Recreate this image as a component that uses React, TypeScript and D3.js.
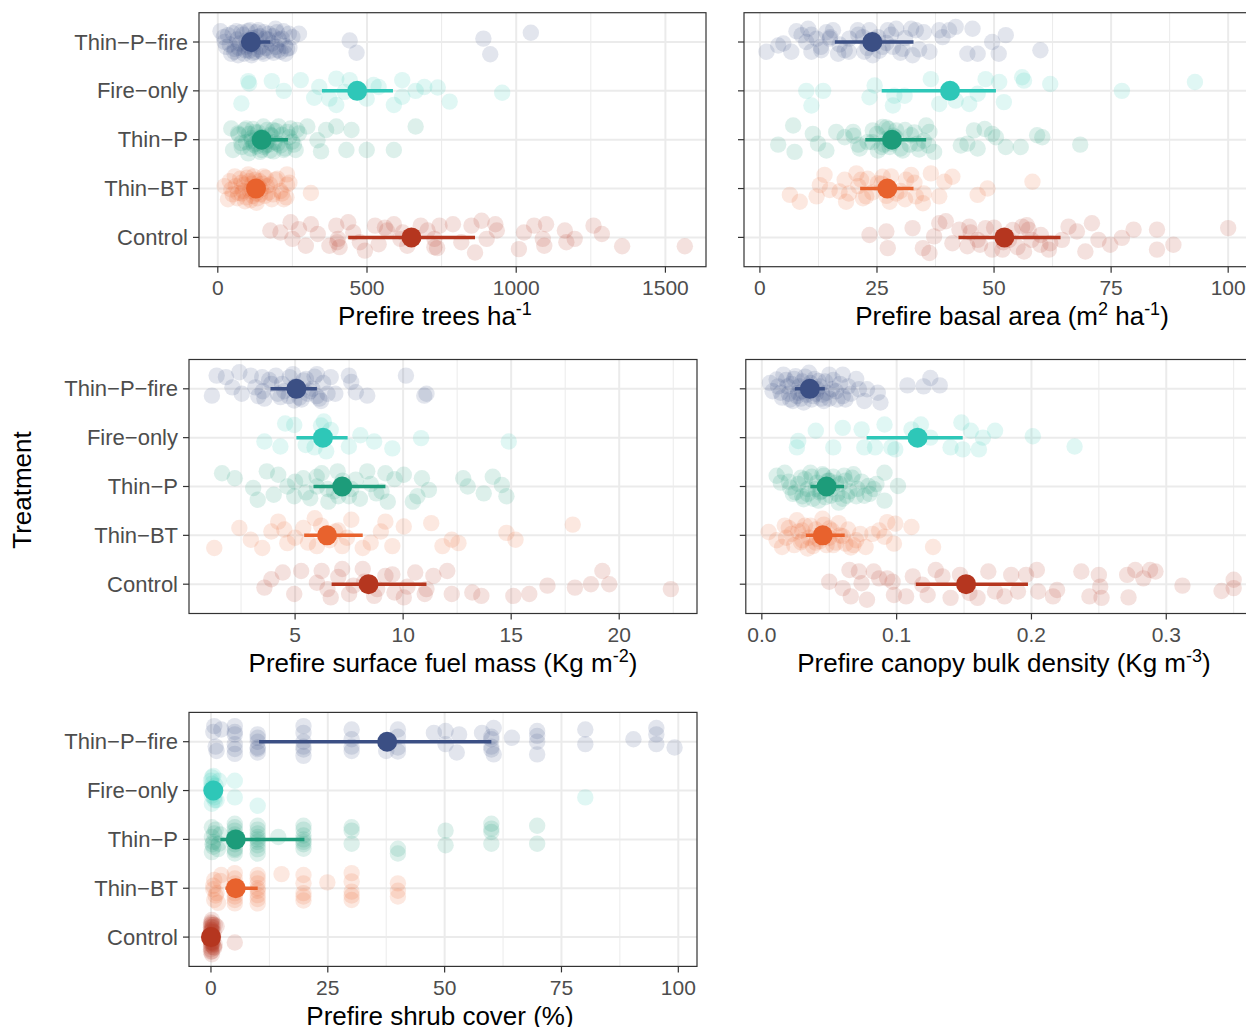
import React from "react";
import * as d3 from "d3";

// [value, vertical jitter in category steps]
type Pt = [number, number];

const treatments = ["Thin−P−fire", "Fire−only", "Thin−P", "Thin−BT", "Control"];
const palette = ["#3B4F84", "#2EC7B8", "#1D9C7A", "#E8622D", "#B5361F"];

// ---- Prefire trees ha-1
const treesThinPFire: Pt[] = [
  [9, -0.22], [34, -0.14], [28, 0.1], [45, 0.24], [62, -0.22], [74, 0.03], [91, 0.17], [108, -0.24],
  [113, 0.27], [130, -0.1], [142, 0.1], [153, 0.24], [170, -0.17], [181, 0.03], [193, -0.27], [202, 0.17],
  [215, -0.07], [227, 0.24], [238, -0.17], [272, -0.17], [23, 0], [57, 0.14], [79, -0.2], [96, -0.03],
  [102, 0.07], [125, 0.2], [159, -0.07], [187, 0.22], [198, -0.2], [232, 0.14], [68, 0.27], [136, -0.24],
  [20, -0.1], [40, 0.05], [50, -0.18], [55, 0.2], [65, -0.05], [70, 0.12], [85, -0.15], [88, 0.24],
  [95, 0.1], [100, -0.22], [105, 0.18], [115, -0.08], [118, 0.22], [120, 0.05], [128, -0.2], [135, 0.15],
  [140, -0.12], [148, 0.2], [155, -0.2], [162, 0.12], [168, -0.05], [175, 0.18], [185, -0.12], [195, 0.1],
  [205, -0.05], [210, 0.2], [220, -0.22], [225, 0.08], [240, 0.12], [250, -0.1],
  [442, -0.03], [465, 0.22], [890, -0.07], [913, 0.25], [1049, -0.19],
];
const treesFireOnly: Pt[] = [
  [102, -0.2], [79, 0.26], [181, -0.2], [221, 0], [278, -0.22], [323, 0.14], [340, -0.08], [374, 0.16],
  [397, -0.25], [397, 0.29], [425, 0.02], [442, -0.22], [499, 0.16], [522, -0.12], [539, -0.08], [590, 0.29],
  [618, 0.12], [618, -0.22], [663, 0], [692, -0.08], [737, -0.07], [777, 0.22], [953, 0.04], [105, -0.15],
];
const treesThinP: Pt[] = [
  [45, -0.23], [51, 0.21], [68, -0.13], [79, 0.07], [96, -0.23], [102, 0.28], [113, -0.03], [125, -0.16],
  [130, 0.14], [147, 0.21], [153, -0.27], [164, 0.04], [176, -0.1], [187, 0.24], [204, -0.27], [221, 0.21],
  [232, -0.16], [244, -0.23], [249, 0.04], [261, 0.21], [272, -0.13], [300, -0.27], [334, 0.01], [346, 0.24],
  [363, -0.2], [397, -0.27], [431, 0.21], [448, -0.2], [499, 0.21], [590, 0.21], [663, -0.27],
  [120, 0.1], [140, -0.05], [160, 0.12], [185, -0.2], [200, 0.08],
  [70, -0.1], [80, 0.15], [90, -0.2], [95, 0.05], [105, -0.12], [110, 0.18], [115, 0.02], [118, -0.22],
  [128, 0.08], [135, -0.15], [142, 0.25], [150, -0.05], [155, 0.15], [165, -0.2], [170, 0.1], [175, 0.22],
  [180, -0.08], [190, 0.05], [195, -0.18], [210, 0.12], [215, -0.1], [225, 0.18], [240, -0.05], [255, 0.1],
  [265, -0.2],
];
const treesThinBT: Pt[] = [
  [23, -0.05], [34, 0.22], [57, -0.25], [68, 0.09], [79, -0.12], [91, 0.26], [102, -0.29], [113, 0.02],
  [125, -0.18], [130, 0.29], [142, 0.12], [153, -0.25], [164, -0.05], [181, 0.22], [193, -0.18], [210, 0.05],
  [221, 0.22], [232, -0.29], [232, -0.08], [312, 0.09], [45, 0.02], [136, -0.05], [85, 0.05], [118, 0.15],
  [150, -0.1], [170, 0.08], [105, -0.15],
  [40, -0.15], [50, 0.12], [60, -0.05], [65, 0.2], [75, -0.2], [80, 0.1], [88, -0.08], [95, 0.18],
  [98, -0.22], [108, 0.05], [110, 0.24], [115, -0.1], [120, -0.25], [128, 0.1], [133, 0.2], [140, -0.15],
  [145, 0.02], [158, 0.15], [160, -0.22], [175, -0.08], [185, 0.12], [200, -0.2], [215, 0.1], [230, 0.18],
  [240, -0.12],
];
const treesControl: Pt[] = [
  [176, -0.14], [210, -0.1], [244, -0.31], [250, 0.03], [272, -0.17], [295, 0.17], [312, -0.27], [335, -0.07],
  [374, 0.17], [397, -0.24], [403, 0.03], [408, 0.2], [437, -0.31], [454, -0.1], [476, 0.1], [493, 0.27],
  [527, -0.24], [539, 0.14], [567, -0.14], [590, -0.27], [612, 0.03], [635, 0.17], [680, -0.24], [703, -0.14],
  [726, 0.2], [743, -0.24], [788, -0.27], [816, 0.1], [850, -0.24], [862, 0.31], [884, -0.34], [901, 0.03],
  [930, -0.27], [935, -0.14], [1009, 0.24], [1026, -0.1], [1060, -0.24], [1089, 0.03], [1100, -0.27],
  [1163, -0.14], [1196, 0.03], [1259, -0.24], [1287, -0.07], [1355, 0.18], [1565, 0.18], [1168, 0.1],
  [1094, 0.17], [726, 0.03], [400, 0.1], [560, -0.2], [735, 0.22], [620, -0.1],
];
const treesMean = [111, 467, 147, 128, 649];
const treesLo = [80, 349, 115, 105, 437];
const treesHi = [176, 587, 235, 150, 862];
const treesTicks = [0, 500, 1000, 1500];
const treesTickLabels = ["0", "500", "1000", "1500"];
const treesMinor = [250, 750, 1250];

// ---- Prefire basal area (m2 ha-1)
const basalThinPFire: Pt[] = [
  [1.4, 0.2], [3.9, 0.07], [5, 0.03], [6.7, 0.2], [7.8, -0.22], [8.9, -0.14], [9.9, 0], [10.3, -0.27],
  [11, 0.2], [12.1, -0.07], [13.1, 0.17], [14.2, -0.2], [14.9, -0.07], [15.6, -0.24], [16.7, 0.24],
  [18.1, 0.17], [19.1, -0.07], [20.9, -0.24], [22, -0.1], [22.3, 0.2], [23.4, -0.24], [24.1, 0.27],
  [25.2, -0.1], [26.2, 0.1], [27.3, -0.24], [28.4, 0.1], [29.1, -0.27], [30.5, 0.14], [32.3, -0.27],
  [32.6, 0.27], [33.3, -0.24], [36.2, 0.2], [38.3, -0.24], [39, -0.1], [40.4, -0.24], [41.8, -0.31],
  [44.3, 0.24], [45.4, -0.27], [46.5, 0.24], [49.6, 0], [51, 0.24], [52.5, -0.14], [59.9, 0.17],
  [11, -0.15], [13, 0.1], [15, -0.1], [17, 0.05], [19, 0.2], [21, -0.15], [23, 0.12], [24.5, -0.05],
  [25.5, 0.18], [27, 0.02], [28, -0.15], [30, 0.22], [31, -0.08], [34, 0.15], [35, -0.2],
];
const basalFireOnly: Pt[] = [
  [9.9, 0], [11, 0.3], [13.5, 0], [23.4, 0.13], [24.5, -0.11], [28.4, 0.3], [28.7, 0.1], [30.9, 0.1],
  [36.5, -0.24], [38.3, 0.27], [41.8, 0.2], [44.7, 0.27], [46.5, 0.06], [48.2, -0.24], [51.1, -0.18],
  [52.1, 0.23], [56, -0.28], [56.4, -0.21], [62, -0.14], [77.3, 0], [92.9, -0.18],
];
const basalThinP: Pt[] = [
  [3.9, 0.1], [7.1, -0.29], [7.4, 0.25], [11.3, -0.12], [12.4, 0.08], [14.2, 0.22], [16.3, -0.16],
  [18.1, -0.05], [19.9, -0.16], [21.3, 0.18], [23, 0.05], [24.1, -0.19], [25.2, 0.22], [26.2, -0.26],
  [27, -0.02], [27.7, 0.15], [29.1, -0.19], [30.5, 0.22], [32.3, -0.09], [33.7, 0.08], [35.5, -0.29],
  [36.2, -0.16], [37.2, 0.25], [42.9, 0.12], [44.3, 0.08], [45.7, -0.19], [46.5, 0.18], [48, -0.22],
  [49.6, -0.12], [50.4, -0.05], [52.5, 0.15], [55.7, 0.15], [59.2, -0.09], [60.3, -0.05], [68.4, 0.1],
  [26.5, 0.1], [28.5, -0.08], [27.5, -0.22],
  [24, 0.05], [25, -0.12], [26, 0.15], [27, -0.25], [28, 0.08], [29, -0.05], [30, 0.18], [31, -0.2],
  [32, 0.1], [33, -0.15], [34, 0.2], [35, 0.02], [21, 0.1], [20, -0.08], [36, 0.12],
];
const basalThinBT: Pt[] = [
  [6.4, 0.13], [8.5, 0.27], [12.1, 0.16], [12.8, -0.07], [13.8, -0.28], [14.9, 0.03], [17, 0.06],
  [18.1, -0.18], [18.4, 0.27], [20.6, -0.31], [21.6, -0.18], [22.7, 0.16], [25.2, -0.11], [26.2, -0.24],
  [27.7, 0.27], [29.1, 0.1], [31.2, -0.18], [32.3, -0.28], [33.3, 0.16], [34.8, 0.3], [36.5, -0.31],
  [38.3, 0.16], [39.4, -0.14], [41.1, -0.24], [46.5, 0.13], [48.6, 0], [58.2, -0.14],
  [19, 0.1], [21, -0.05], [22, 0.2], [23, -0.2], [24, 0.08], [26, -0.1], [27, 0.15], [28, -0.25],
  [30, 0.05], [31, 0.22], [33, -0.12], [35, 0.1],
];
const basalControl: Pt[] = [
  [23.4, -0.05], [27, -0.12], [27.3, 0.22], [32.6, -0.19], [34.8, 0.22], [36.2, 0.32], [37.2, -0.02],
  [38.3, -0.29], [39.7, -0.33], [41.1, 0.12], [42.6, -0.16], [44.3, 0.18], [44.7, -0.22], [46.5, 0.05],
  [48.2, -0.19], [49.6, 0.25], [51.8, 0.25], [53.2, 0.05], [56, -0.22], [56.4, 0.29], [57.4, -0.16],
  [59.9, 0.15], [61.7, 0.25], [64.5, 0.05], [65.9, -0.22], [67.7, -0.12], [69.5, 0.29], [70.9, -0.29],
  [72.3, 0.05], [74.8, 0.15], [77.3, 0.01], [79.8, -0.16], [84.8, -0.16], [84.8, 0.25], [88.3, 0.15],
  [100, -0.19], [45, -0.1], [47, 0.15], [50, -0.2], [52, 0.1], [54, -0.15], [55, 0.2], [57, -0.25],
  [58, 0.05], [60, -0.05], [62, 0.12],
];
const basalMean = [24, 40.6, 28.2, 27.2, 52.2];
const basalLo = [16, 26, 22.5, 21.4, 42.4];
const basalHi = [32.8, 50.4, 35.5, 32.8, 64.2];
const basalTicks = [0, 25, 50, 75, 100];
const basalTickLabels = ["0", "25", "50", "75", "100"];
const basalMinor = [12.5, 37.5, 62.5, 87.5];

// ---- Prefire surface fuel mass (Kg m-2)
const fuelThinPFire: Pt[] = [
  [1.15, 0.14], [1.37, -0.27], [1.8, -0.24], [2.42, -0.34], [2.53, 0.1], [2.95, -0.27], [3.16, -0.03],
  [3.48, -0.24], [3.58, 0.2], [3.9, -0.1], [4.11, -0.27], [4.32, 0.17], [4.75, -0.24], [4.96, 0.24],
  [5.38, -0.17], [5.59, 0.1], [6.01, -0.3], [6.12, 0.2], [6.65, -0.24], [6.86, 0.1], [7.49, -0.27],
  [7.6, -0.14], [7.81, 0.07], [8.34, 0.14], [10.13, -0.27], [10.98, 0.14], [11.08, 0.1], [2.1, -0.03],
  [5.8, 0], [4.5, 0.05], [5.2, 0.18], [3.3, 0.15],
  [3.5, 0.05], [3.8, -0.18], [4.2, 0.1], [4.4, -0.1], [4.7, 0.15], [5, -0.05], [5.3, 0.22], [5.5, -0.2],
  [5.7, 0.05], [6, 0.15], [6.3, -0.12], [6.5, 0.1], [5.9, -0.25], [4.9, -0.3], [6.2, 0.25],
];
const fuelFireOnly: Pt[] = [
  [3.58, 0.08], [4.32, 0.18], [4.54, -0.29], [4.96, -0.26], [5.49, 0.15], [6.33, -0.33], [6.44, 0.28],
  [6.65, -0.16], [7.49, 0.18], [8.02, -0.05], [8.66, 0.08], [9.5, 0.22], [10.83, 0.01], [14.89, 0.08],
  [6.2, -0.25], [5.9, 0.2],
];
const fuelThinP: Pt[] = [
  [1.62, -0.27], [2.21, -0.17], [3.06, 0.03], [3.27, 0.27], [3.69, -0.31], [4.01, 0.17], [4.22, -0.24],
  [4.64, 0], [4.96, 0.2], [5.38, -0.17], [5.7, 0.24], [6.01, 0], [6.23, -0.27], [6.54, 0.31], [6.97, -0.31],
  [7.49, 0.2], [7.81, -0.14], [8.34, -0.31], [8.76, 0.14], [9.18, -0.27], [9.29, 0.31], [10.03, -0.24],
  [10.45, 0.31], [10.66, 0.2], [10.87, -0.17], [11.19, 0.07], [12.78, -0.17], [12.99, 0], [13.73, 0.14],
  [14.15, -0.2], [14.57, -0.03], [14.78, 0.2],
  [5, -0.1], [5.5, 0.12], [6, -0.2], [6.5, 0.05], [7, 0.2], [7.2, -0.12], [7.6, 0.05], [8, 0.25],
  [8.5, -0.05], [9, 0.1], [9.6, -0.15], [6.8, 0.1],
];
const fuelThinBT: Pt[] = [
  [1.26, 0.26], [2.42, -0.15], [2.95, 0.09], [3.48, 0.26], [3.9, -0.08], [4.22, -0.28], [4.64, 0.16],
  [5.38, -0.15], [5.91, -0.35], [6.01, 0.22], [6.86, -0.08], [7.18, 0.22], [7.6, -0.32], [8.13, 0.26],
  [8.97, -0.08], [9.18, -0.28], [9.5, 0.22], [10.03, -0.18], [11.3, -0.25], [11.82, 0.22], [12.25, 0.09],
  [12.56, 0.16], [14.78, -0.05], [15.2, 0.09], [17.85, -0.22],
  [5, 0.05], [5.6, 0.15], [6.2, -0.2], [6.6, 0.1], [7, -0.1], [7.4, 0.05], [8.5, 0.15], [4.5, -0.12],
];
const fuelControl: Pt[] = [
  [3.58, 0.07], [3.9, -0.1], [4.43, -0.24], [4.96, 0.2], [5.28, -0.27], [6.01, -0.03], [6.23, -0.27],
  [6.65, 0.27], [7.18, -0.31], [7.7, 0.03], [8.13, -0.31], [8.66, 0.24], [9.18, -0.17], [9.6, 0.17],
  [10.03, 0.27], [10.56, -0.24], [11.08, 0.1], [11.4, -0.17], [12.04, -0.27], [12.25, 0.2], [13.2, 0.17],
  [13.62, 0.24], [15.1, 0.24], [15.84, 0.2], [16.68, 0.03], [17.95, 0.07], [18.69, 0], [19.22, -0.27],
  [19.54, 0], [22.39, 0.1],
  [6.5, 0.1], [7, -0.15], [7.5, 0.2], [8.2, -0.05], [8.8, 0.1], [9.5, -0.2], [10.2, 0.05], [11, 0.2],
];
const fuelMean = [5.06, 6.29, 7.18, 6.48, 8.4];
const fuelLo = [3.86, 5.06, 5.85, 5.42, 6.69];
const fuelHi = [6.01, 7.43, 9.18, 8.13, 11.08];
const fuelTicks = [5, 10, 15, 20];
const fuelTickLabels = ["5", "10", "15", "20"];
const fuelMinor = [2.5, 7.5, 12.5, 17.5, 22.5];

// ---- Prefire canopy bulk density (Kg m-3)
const cbdThinPFire: Pt[] = [
  [0.006, -0.12], [0.011, -0.19], [0.014, 0.08], [0.016, -0.29], [0.019, -0.05], [0.021, 0.22],
  [0.025, -0.26], [0.027, 0.08], [0.031, 0.28], [0.035, -0.33], [0.038, 0.15], [0.042, -0.16],
  [0.046, 0.25], [0.05, -0.29], [0.052, 0.01], [0.056, 0.22], [0.06, -0.29], [0.062, 0.22], [0.072, 0.01],
  [0.076, 0.25], [0.078, 0.01], [0.086, 0.08], [0.088, 0.28], [0.108, -0.07], [0.12, -0.05],
  [0.125, -0.22], [0.132, -0.07], [0.034, -0.05], [0.041, 0.01], [0.03, -0.15], [0.045, 0.12],
  [0.008, 0.05], [0.012, -0.05], [0.015, 0.18], [0.018, -0.18], [0.02, 0.1], [0.022, -0.1], [0.023, 0.25],
  [0.024, -0.2], [0.026, 0.15], [0.028, -0.05], [0.029, 0.2], [0.03, 0.05], [0.032, -0.25], [0.033, 0.12],
  [0.036, -0.12], [0.037, 0.22], [0.039, -0.2], [0.04, 0.1], [0.043, -0.05], [0.044, 0.2], [0.047, -0.15],
  [0.048, 0.08], [0.05, 0.2], [0.053, -0.18], [0.055, 0.05], [0.058, -0.1], [0.06, 0.15], [0.064, -0.05],
  [0.066, 0.1], [0.07, -0.2],
];
const cbdFireOnly: Pt[] = [
  [0.026, 0.2], [0.027, 0.07], [0.04, -0.14], [0.053, 0.2], [0.06, -0.2], [0.074, -0.17], [0.076, 0.2],
  [0.084, 0.2], [0.091, -0.27], [0.096, 0.2], [0.099, 0.24], [0.111, -0.17], [0.118, -0.27], [0.125, 0],
  [0.14, 0.2], [0.148, -0.31], [0.149, 0.24], [0.155, -0.14], [0.164, 0], [0.173, -0.14], [0.161, 0.24],
  [0.201, -0.03], [0.232, 0.18],
];
const cbdThinP: Pt[] = [
  [0.011, -0.22], [0.014, -0.08], [0.017, -0.28], [0.021, 0.02], [0.025, 0.12], [0.029, -0.18],
  [0.031, 0.26], [0.036, -0.28], [0.04, 0.05], [0.042, 0.29], [0.046, -0.22], [0.051, 0.19],
  [0.055, -0.08], [0.057, 0.33], [0.061, -0.22], [0.063, 0.19], [0.068, -0.25], [0.071, 0.05],
  [0.076, 0.19], [0.079, -0.01], [0.083, 0.05], [0.091, -0.28], [0.091, 0.29], [0.101, -0.01],
  [0.044, 0.1], [0.05, -0.12], [0.034, 0.15],
  [0.02, -0.1], [0.023, 0.15], [0.027, -0.05], [0.03, 0.2], [0.032, -0.15], [0.034, 0.05], [0.037, -0.2],
  [0.038, 0.25], [0.041, -0.08], [0.043, 0.12], [0.045, -0.25], [0.047, 0.22], [0.049, -0.12],
  [0.052, 0.05], [0.053, -0.2], [0.056, 0.15], [0.058, -0.05], [0.06, 0.25], [0.062, -0.12], [0.065, 0.1],
  [0.067, -0.18], [0.07, 0.2], [0.074, -0.1], [0.08, 0.15], [0.085, -0.05],
];
const cbdThinBT: Pt[] = [
  [0.005, -0.07], [0.011, 0.1], [0.015, 0.24], [0.017, -0.2], [0.022, -0.03], [0.026, -0.31], [0.029, 0.14],
  [0.034, 0.27], [0.036, -0.2], [0.041, 0.07], [0.045, -0.34], [0.05, -0.14], [0.053, 0.2], [0.058, 0],
  [0.062, 0.17], [0.068, 0.2], [0.073, -0.03], [0.077, 0.24], [0.082, -0.03], [0.087, -0.1], [0.091, 0.03],
  [0.093, -0.27], [0.098, 0.17], [0.099, -0.24], [0.111, -0.17], [0.127, 0.24], [0.04, 0.15], [0.03, -0.1],
  [0.018, 0.05], [0.02, -0.15], [0.024, 0.2], [0.027, -0.08], [0.03, 0.1], [0.032, -0.2], [0.035, 0.05],
  [0.038, 0.22], [0.04, -0.12], [0.043, 0.12], [0.046, -0.22], [0.048, 0.2], [0.05, 0.05], [0.052, -0.1],
  [0.055, 0.15], [0.057, -0.25], [0.06, 0.02], [0.064, -0.12], [0.066, 0.25], [0.07, 0.1],
];
const cbdControl: Pt[] = [
  [0.05, -0.05], [0.06, 0.08], [0.065, -0.29], [0.066, 0.25], [0.072, -0.26], [0.074, -0.02], [0.078, 0.32],
  [0.083, -0.26], [0.087, -0.12], [0.093, -0.12], [0.097, -0.05], [0.098, 0.22], [0.107, 0.25],
  [0.112, -0.16], [0.119, 0.01], [0.123, 0.22], [0.129, -0.29], [0.134, -0.16], [0.14, 0.28],
  [0.147, -0.19], [0.154, 0.18], [0.16, 0.28], [0.168, -0.26], [0.173, 0.15], [0.18, 0.25], [0.185, -0.19],
  [0.19, 0.15], [0.196, -0.19], [0.204, -0.29], [0.205, 0.15], [0.216, 0.25], [0.219, 0.12], [0.237, -0.26],
  [0.243, 0.25], [0.25, -0.19], [0.251, 0.05], [0.252, 0.28], [0.271, -0.19], [0.272, 0.27], [0.277, -0.29],
  [0.283, -0.12], [0.288, -0.29], [0.292, -0.26], [0.312, 0.03], [0.341, 0.14], [0.35, -0.09], [0.35, 0.08],
];
const cbdMean = [0.0356, 0.1155, 0.048, 0.0452, 0.1515];
const cbdLo = [0.0245, 0.0777, 0.036, 0.0326, 0.1142];
const cbdHi = [0.0467, 0.149, 0.061, 0.0615, 0.1974];
const cbdTicks = [0, 0.1, 0.2, 0.3];
const cbdTickLabels = ["0.0", "0.1", "0.2", "0.3"];
const cbdMinor = [0.05, 0.15, 0.25, 0.35];

// ---- Prefire shrub cover (%)
const shrubThinPFire: Pt[] = [
  [0.7, -0.32], [1.2, 0.19], [2.2, -0.25], [5.1, -0.15], [5.1, 0.05], [5.1, -0.32], [10, -0.08], [10, 0.12],
  [10, 0.22], [19.8, -0.32], [19.8, -0.18], [19.8, 0.16], [19.8, 0.29], [30.1, -0.25], [30.1, -0.05],
  [30.1, 0.19], [37.5, 0.19], [40, -0.25], [40, 0.12], [47.7, -0.18], [50.2, -0.22], [50.2, 0.05],
  [52.6, 0.22], [53.1, -0.15], [58, -0.18], [60.5, -0.28], [60, -0.05], [60, 0.16], [60.5, 0.26],
  [64.4, -0.08], [69.8, -0.22], [69.8, -0.12], [69.8, 0.26], [80.1, -0.25], [80.1, 0.05], [90.4, -0.05],
  [95.3, -0.28], [95.3, -0.15], [95.3, 0.05], [99.2, 0.12],
  [0.5, -0.2], [1, 0.1], [5.1, -0.2], [5.1, 0.15], [5.1, 0.25], [10, -0.15], [10, 0], [10, 0.15],
  [19.8, 0], [19.8, 0.1], [30.1, 0.1], [40, -0.1], [40, 0.2], [60, 0.1], [60, -0.1], [69.8, 0],
];
const shrubFireOnly: Pt[] = [
  [0.2, -0.27], [0.2, -0.14], [0.7, 0.14], [1.2, 0.2], [1.7, -0.2], [0.2, 0.27], [5.1, -0.2], [5.1, 0.14],
  [10, 0.31], [80.1, 0.14], [0.5, 0.05], [0, -0.05], [0, -0.2], [0.3, 0], [0.5, -0.3], [0.8, 0.2],
  [1, -0.1], [0.2, 0.1],
];
const shrubThinP: Pt[] = [
  [0.2, -0.25], [0.7, -0.12], [0.2, 0.26], [1.7, 0.09], [5.1, -0.32], [5.1, -0.18], [5.1, 0.19], [5.1, 0.29],
  [10, -0.28], [10, -0.12], [10, 0.12], [10, 0.29], [14.4, -0.05], [19.8, -0.28], [19.8, -0.08], [19.8, 0.19],
  [30.1, -0.25], [30.1, 0.09], [40, 0.19], [40, 0.29], [50.2, -0.18], [50.2, 0.12], [60, -0.32],
  [60, -0.15], [60, 0.09], [69.8, -0.28], [69.8, 0.09], [0.5, 0.05], [5.1, -0.05],
  [0.2, -0.05], [0.5, 0.15], [1, -0.2], [1.5, 0.2], [0.3, 0.1], [2, -0.1], [5.1, -0.25], [5.1, 0],
  [5.1, 0.1], [5.1, 0.22], [5.1, -0.1], [10, -0.2], [10, 0], [10, 0.05], [10, 0.2], [10, -0.05],
  [19.8, -0.2], [19.8, 0], [19.8, 0.1], [19.8, 0.05], [30.1, -0.18], [60, -0.22],
];
const shrubThinBT: Pt[] = [
  [0.7, -0.17], [1.2, 0.1], [2.2, -0.27], [0.7, 0.24], [5.1, -0.31], [5.1, -0.1], [5.1, 0.17], [5.1, 0.31],
  [10, -0.27], [10, -0.1], [10, 0.14], [10, 0.31], [15.1, -0.29], [19.8, -0.27], [19.8, -0.1], [19.8, 0.17],
  [24.9, -0.12], [30.1, -0.31], [30.1, -0.14], [30.1, 0.07], [30.1, 0.24], [40, -0.1], [40, 0.17],
  [0.5, 0.02], [0.5, -0.05], [1, 0.15], [2, -0.15], [1.5, 0.3], [5.1, -0.2], [5.1, 0], [5.1, 0.1],
  [5.1, 0.24], [10, -0.2], [10, 0], [10, 0.05], [10, 0.22], [19.8, 0.1], [19.8, 0.25], [30.1, 0.15],
  [40, 0.05],
];
const shrubControl: Pt[] = [
  [0.2, -0.28], [0.2, -0.15], [0.2, -0.05], [0.2, 0.05], [0.2, 0.16], [0.2, 0.29], [1.2, -0.22], [0.7, 0.22],
  [0, -0.2], [0, -0.1], [0, 0], [0, 0.1], [0, 0.2], [0.4, -0.02], [0.4, 0.12], [0.4, -0.25], [5.1, 0.11],
  [0, -0.3], [0, -0.25], [0, -0.15], [0, -0.05], [0, 0.05], [0, 0.15], [0, 0.25], [0, 0.3], [0.3, -0.2],
  [0.3, 0.1], [0.6, -0.1], [0.6, 0.2], [0.1, 0], [0.2, -0.35], [0.2, 0.35], [0.5, 0], [0.8, -0.25],
  [0.8, 0.15], [0.1, 0.12], [0.1, -0.12],
];
const shrubMean = [37.7, 0.5, 5.3, 5.3, 0];
const shrubLo = [10.3, 0, 2, 3.1, 0];
const shrubHi = [60, 1, 20, 10, 0];
const shrubTicks = [0, 25, 50, 75, 100];
const shrubTickLabels = ["0", "25", "50", "75", "100"];
const shrubMinor = [12.5, 37.5, 62.5, 87.5];

const FONT = "'Liberation Sans', Arial, Helvetica, sans-serif";

// title pieces: [text, superscript?]
type Seg = [string, boolean];

const panels = [
  {
    key: "trees", left: 199, right: 706, top: 12.7, bottom: 266.7, domain: [-63, 1636],
    groups: [treesThinPFire, treesFireOnly, treesThinP, treesThinBT, treesControl],
    mean: treesMean, lo: treesLo, hi: treesHi, ticks: treesTicks, tickLabels: treesTickLabels,
    minor: treesMinor, yLabels: true, titleX: 435,
    title: [["Prefire trees ha", false], ["-1", true]] as Seg[],
  },
  {
    key: "basal", left: 744, right: 1253, top: 12.7, bottom: 266.7, domain: [-3.4, 105.3],
    groups: [basalThinPFire, basalFireOnly, basalThinP, basalThinBT, basalControl],
    mean: basalMean, lo: basalLo, hi: basalHi, ticks: basalTicks, tickLabels: basalTickLabels,
    minor: basalMinor, yLabels: false, titleX: 1012,
    title: [["Prefire basal area (m", false], ["2", true], [" ha", false], ["-1", true], [")", false]] as Seg[],
  },
  {
    key: "fuel", left: 189, right: 697, top: 359.5, bottom: 613.5, domain: [0.09, 23.6],
    groups: [fuelThinPFire, fuelFireOnly, fuelThinP, fuelThinBT, fuelControl],
    mean: fuelMean, lo: fuelLo, hi: fuelHi, ticks: fuelTicks, tickLabels: fuelTickLabels,
    minor: fuelMinor, yLabels: true, titleX: 443,
    title: [["Prefire surface fuel mass (Kg m", false], ["-2", true], [")", false]] as Seg[],
  },
  {
    key: "cbd", left: 745.8, right: 1264, top: 359.5, bottom: 613.5, domain: [-0.0119, 0.3725],
    groups: [cbdThinPFire, cbdFireOnly, cbdThinP, cbdThinBT, cbdControl],
    mean: cbdMean, lo: cbdLo, hi: cbdHi, ticks: cbdTicks, tickLabels: cbdTickLabels,
    minor: cbdMinor, yLabels: false, titleX: 1004,
    title: [["Prefire canopy bulk density (Kg m", false], ["-3", true], [")", false]] as Seg[],
  },
  {
    key: "shrub", left: 189, right: 697, top: 712.4, bottom: 966.4, domain: [-4.7, 104],
    groups: [shrubThinPFire, shrubFireOnly, shrubThinP, shrubThinBT, shrubControl],
    mean: shrubMean, lo: shrubLo, hi: shrubHi, ticks: shrubTicks, tickLabels: shrubTickLabels,
    minor: shrubMinor, yLabels: true, titleX: 440,
    title: [["Prefire shrub cover (%)", false]] as Seg[],
  },
];

function Title({ segs, x, y }: { segs: Seg[]; x: number; y: number }) {
  let prevSup = false;
  return (
    <text x={x} y={y} textAnchor="middle" fontSize={26} fill="#000">
      {segs.map(([t, isSup], i) => {
        const dy = isSup ? -10 : prevSup ? 10 : 0;
        prevSup = isSup;
        return (
          <tspan key={i} dy={dy} fontSize={isSup ? 18 : 26}>
            {t}
          </tspan>
        );
      })}
    </text>
  );
}

function Panel({ p }: { p: (typeof panels)[number] }) {
  const x = d3.scaleLinear().domain(p.domain).range([p.left, p.right]);
  const y = d3.scalePoint<string>().domain(treatments).range([p.top, p.bottom]).padding(0.6);
  const step = y.step();
  return (
    <g>
      <rect x={p.left} y={p.top} width={p.right - p.left} height={p.bottom - p.top} fill="#fff" />
      {p.minor.map((v) => (
        <line key={"mi" + v} x1={x(v)} x2={x(v)} y1={p.top} y2={p.bottom} stroke="#EBEBEB" strokeWidth={1} />
      ))}
      {p.ticks.map((v) => (
        <line key={"ma" + v} x1={x(v)} x2={x(v)} y1={p.top} y2={p.bottom} stroke="#EBEBEB" strokeWidth={2} />
      ))}
      {treatments.map((t) => (
        <line key={"h" + t} x1={p.left} x2={p.right} y1={y(t)} y2={y(t)} stroke="#EBEBEB" strokeWidth={2} />
      ))}
      {p.groups.map((pts, gi) =>
        pts.map(([v, j], i) => (
          <circle
            key={gi + "-" + i}
            cx={x(v)}
            cy={(y(treatments[gi]) as number) + j * step}
            r={8.2}
            fill={palette[gi]}
            fillOpacity={0.15}
          />
        ))
      )}
      {treatments.map((t, gi) => (
        <g key={"m" + t}>
          <line x1={x(p.lo[gi])} x2={x(p.hi[gi])} y1={y(t)} y2={y(t)} stroke={palette[gi]} strokeWidth={3.5} />
          <circle cx={x(p.mean[gi])} cy={y(t)} r={10} fill={palette[gi]} />
        </g>
      ))}
      <rect
        x={p.left}
        y={p.top}
        width={p.right - p.left}
        height={p.bottom - p.top}
        fill="none"
        stroke="#333333"
        strokeWidth={1.2}
      />
      {treatments.map((t) => (
        <line key={"yt" + t} x1={p.left - 6} x2={p.left} y1={y(t)} y2={y(t)} stroke="#333333" strokeWidth={1.2} />
      ))}
      {p.yLabels &&
        treatments.map((t) => (
          <text key={"yl" + t} x={p.left - 11} y={(y(t) as number) + 7.5} textAnchor="end" fontSize={22} fill="#4D4D4D">
            {t}
          </text>
        ))}
      {p.ticks.map((v, i) => (
        <g key={"xt" + v}>
          <line x1={x(v)} x2={x(v)} y1={p.bottom} y2={p.bottom + 6} stroke="#333333" strokeWidth={1.2} />
          <text x={x(v)} y={p.bottom + 28.5} textAnchor="middle" fontSize={21} fill="#4D4D4D">
            {p.tickLabels[i]}
          </text>
        </g>
      ))}
      <Title segs={p.title} x={p.titleX} y={p.bottom + 58.5} />
    </g>
  );
}

export default function App() {
  return (
    <svg
      width={1246}
      height={1027}
      style={{ position: "absolute", left: 0, top: 0, background: "#fff" }}
      fontFamily={FONT}
    >
      <rect width={1246} height={1027} fill="#fff" />
      {panels.map((p) => (
        <Panel key={p.key} p={p} />
      ))}
      <text transform="translate(31,490) rotate(-90)" textAnchor="middle" fontSize={26} fill="#000">
        Treatment
      </text>
    </svg>
  );
}
